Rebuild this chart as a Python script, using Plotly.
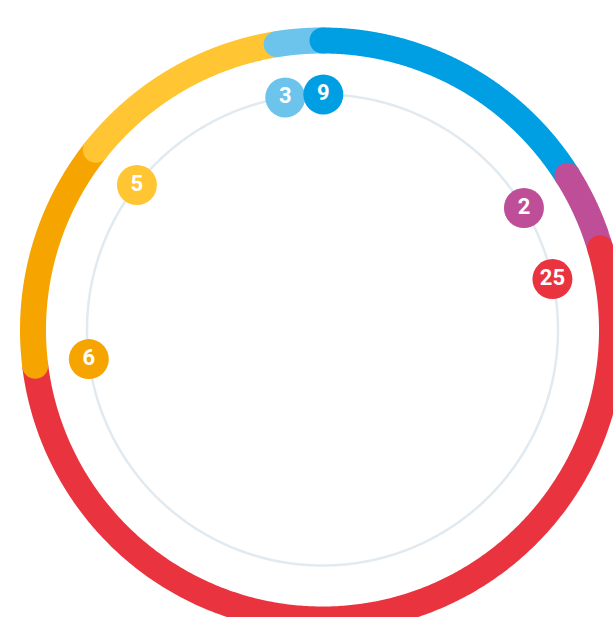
import numpy as np
import plotly.graph_objects as go

# ---- data ----
labels = ["9", "2", "25", "6", "5", "3"]            # values shown in the badges
values = [9, 2, 25, 6, 5, 3]
arc_share = [57.8, 15.8, 189.3, 45.6, 42.4, 9.1]    # angular share of each ring segment (degrees)
colors = ["#009FE3", "#BE4E97", "#E9343F", "#F6A500", "#FFC532", "#6CC4EC"]

# ---- geometry / style ----
R_RING = 289.5
R_INNER = 235.5
RING_W = 26
BADGE = 40
W, H = 613, 617
CX, CY = 322.5, 330.0   # pixel centre of circles (from top-left)
badge_nudge_deg = [0.2, 1.0, 3.9, 0.0, -0.5, 0.0]   # small placement tweak of each badge

starts = np.concatenate([[0.0], np.cumsum(arc_share)[:-1]])
ends = starts + np.array(arc_share)


def xy(r, deg):
    t = np.radians(deg)
    return r * np.sin(t), r * np.cos(t)


fig = go.Figure()

# inner guide circle
a = np.linspace(0, 360, 721)
x, y = xy(R_INNER, a)
fig.add_trace(go.Scatter(x=x, y=y, mode="lines",
                         line=dict(color="#E1EAF0", width=2.5, simplify=False),
                         hoverinfo="skip", showlegend=False))

# ring segments
for s, e, c in zip(starts, ends, colors):
    a = np.linspace(s, e, 400)
    x, y = xy(R_RING, a)
    fig.add_trace(go.Scatter(x=x, y=y, mode="lines",
                             line=dict(color=c, width=RING_W, simplify=False),
                             hoverinfo="skip", showlegend=False))

# rounded start caps (on top)
for s, c in zip(starts, colors):
    x, y = xy(R_RING, np.array([s]))
    fig.add_trace(go.Scatter(x=x, y=y, mode="markers",
                             marker=dict(color=c, size=RING_W, line=dict(width=0)),
                             hoverinfo="skip", showlegend=False))

# badges (last one drawn first so the first sits on top)
order = list(range(len(labels)))[::-1]
for i in order:
    x, y = xy(R_INNER, np.array([starts[i] + badge_nudge_deg[i]]))
    fig.add_trace(go.Scatter(x=x, y=y, mode="markers+text",
                             marker=dict(color=colors[i], size=BADGE, line=dict(width=0)),
                             text=[labels[i]], textposition="middle center",
                             textfont=dict(color="white", size=22,
                                           family="Roboto, DejaVu Sans Condensed, sans-serif",
                                           weight="bold"),
                             hoverinfo="skip", showlegend=False))

fig.update_layout(
    width=W, height=H,
    margin=dict(l=0, r=0, t=0, b=0),
    paper_bgcolor="white", plot_bgcolor="white",
    xaxis=dict(range=[-CX, W - CX], visible=False, showgrid=False, zeroline=False, fixedrange=True),
    yaxis=dict(range=[-(H - CY), CY], visible=False, showgrid=False, zeroline=False, fixedrange=True),
    showlegend=False,
)

fig.write_html("out.html", config={"displayModeBar": False},
               post_script="document.body.style.margin='0';document.body.style.padding='0';"
                           "document.body.style.overflow='hidden';")
